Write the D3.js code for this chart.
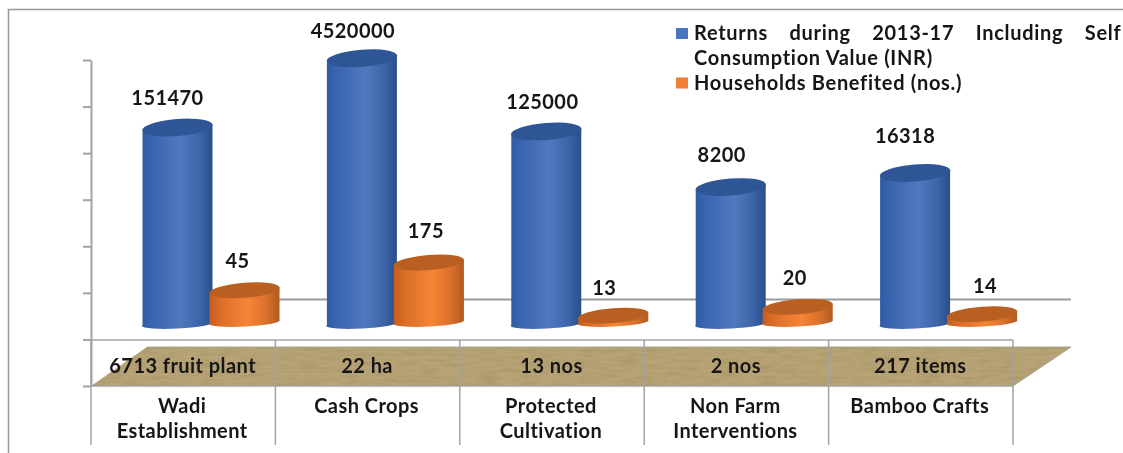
<!DOCTYPE html>
<html>
<head>
<meta charset="utf-8">
<script src="https://cdn.jsdelivr.net/npm/d3@7"></script>
<style>
  html, body { margin: 0; padding: 0; background: #fff; }
  svg { display: block; }
  text { font-family: Lato, "Open Sans", sans-serif; font-weight: 700; fill: #161616; letter-spacing: 0.45px; }
</style>
</head>
<body>
<script>
const categories = [['Wadi', 'Establishment'], ['Cash Crops'], ['Protected', 'Cultivation'], ['Non Farm', 'Interventions'], ['Bamboo Crafts']]
const quantities = ['6713 fruit plant', '22 ha', '13 nos', '2 nos', '217 items']
const returnsInr = [151470, 4520000, 125000, 8200, 16318]
const households = [45, 175, 13, 20, 14]
const axisTicks = [1, 10, 100, 1000, 10000, 100000, 1000000, 10000000]
const legendNames = ['Returns during 2013-17 Including Self', 'Consumption Value (INR)', 'Households Benefited (nos.)']

// hand placed label shifts, [dx, dy]
const returnsNudge = [[-2, 0], [-1, 3], [4, 1], [-1, -2], [-2, -7]]
const householdsNudge = [[-1, 0], [3, -3], [-3, 1], [3, 0], [9, 1]]

const width = 1123
const height = 453

let svg = d3
  .select('body')
  .append('svg')
  .attr('width', width)
  .attr('height', height)

let defs = svg.append('defs')

const addGradient = function(id, stops) {
  defs.append('linearGradient')
    .attr('id', id)
    .selectAll('stop')
    .data(stops)
    .join('stop')
    .attr('offset', d => d[0])
    .attr('stop-color', d => d[1])
}
addGradient('blueBody', [[0, '#2f5aa3'], [0.12, '#3763ae'], [0.55, '#5079bf'], [0.82, '#3c64a8'], [1, '#2a4f88']])
addGradient('orangeBody', [[0, '#c45c1e'], [0.15, '#d96c27'], [0.55, '#f68536'], [0.82, '#d9702b'], [1, '#b25a20']])

let soft = defs.append('filter').attr('id', 'soft')
soft.append('feGaussianBlur').attr('stdDeviation', 0.45)

let wood = defs.append('filter').attr('id', 'wood')
wood.append('feTurbulence')
  .attr('type', 'fractalNoise')
  .attr('baseFrequency', '0.05 0.3')
  .attr('numOctaves', 3)
  .attr('seed', 4)
wood.append('feColorMatrix')
  .attr('values', '0 0 0 0 0.35  0 0 0 0 0.27  0 0 0 0 0.12  0 0 0 1.1 -0.42')
wood.append('feComposite')
  .attr('in2', 'SourceGraphic')
  .attr('operator', 'in')

let root = svg.append('g').attr('filter', 'url(#soft)')

// outer frame, only top and left are in the picture
root.append('path')
  .attr('d', `M8.5,${height} V9.5 H${width}`)
  .attr('fill', 'none')
  .attr('stroke', '#999')
  .attr('stroke-width', 1.5)

let x = d3
  .scaleBand()
  .domain(d3.range(categories.length))
  .range([91, 1013])

// log axis on the wall and the bars in front of it have slightly different decades
let axisY = d3
  .scaleLog()
  .domain([1, 10000000])
  .range([386, 60])

let y = d3
  .scaleLog()
  .domain([10, 10000000])
  .range([324, 42])

root.append('g')
  .attr('transform', 'translate(91,0)')
  .call(d3.axisLeft(axisY).tickValues(axisTicks).tickFormat('').tickSize(8).tickSizeOuter(0))
  .call(g => g.selectAll('path,line').attr('stroke', '#a3a3a3').attr('stroke-width', 2))

// back wall line
root.append('line')
  .attr('x1', 147).attr('x2', 1071)
  .attr('y1', 299.5).attr('y2', 299.5)
  .attr('stroke', '#9a9a9a')
  .attr('stroke-width', 2)

// floor
const floor = 'M91,386 L147,347 H1071 L1013,386 Z'
root.append('path').attr('d', floor).attr('fill', '#b7a375')
root.append('path').attr('d', floor).attr('fill', '#000').attr('filter', 'url(#wood)')
root.append('path').attr('d', 'M1013,386 L1071,347 H147').attr('fill', 'none').attr('stroke', '#a9a395').attr('stroke-width', 1)

// data table grid
let grid = root.append('g').attr('stroke', '#a3a3a3').attr('stroke-width', 1.5)
grid.append('line').attr('x1', 91).attr('x2', 1013).attr('y1', 340).attr('y2', 340)
grid.append('line').attr('x1', 91).attr('x2', 1013).attr('y1', 386).attr('y2', 386)
grid.selectAll('line.v')
  .data(d3.range(categories.length + 1))
  .join('line')
  .attr('class', 'v')
  .attr('x1', d => 91 + d * x.step())
  .attr('x2', d => 91 + d * x.step())
  .attr('y1', 340)
  .attr('y2', 445)

const blue = { body: 'blueBody', cap: '#2f5796', offset: 86.5, lift: 0, ry: 8.5 }
const orange = { body: 'orangeBody', cap: '#b95f24', offset: 153.5, lift: 3, ry: 7.5 }

const cylinder = function(g, value, i, opts) {
  const cx = x(i) + opts.offset
  const top = y(value) - opts.lift
  const base = y.range()[0] - opts.lift + (opts.lift ? 1 : 0)
  g.append('path')
    .attr('fill', `url(#${opts.body})`)
    .attr('d', `M${cx - 35},${top + 2.7} L${cx - 35},${base + 1} A35,4.5 -3 0 0 ${cx + 35},${base - 1} L${cx + 35},${top - 2.7} Z`)
  g.append('ellipse')
    .attr('rx', 35.3)
    .attr('ry', opts.ry)
    .attr('fill', opts.cap)
    .attr('transform', `translate(${cx},${top}) rotate(-4.5)`)
}

let marks = root.append('g')
  .selectAll('g')
  .data(categories)
  .join('g')

marks.each(function(d, i) {
  cylinder(d3.select(this), returnsInr[i], i, blue)
  cylinder(d3.select(this), households[i], i, orange)
})

// value labels
const labelSize = 20
root.append('g')
  .selectAll('text')
  .data(returnsInr)
  .join('text')
  .attr('text-anchor', 'middle')
  .attr('font-size', labelSize)
  .attr('x', (d, i) => x(i) + blue.offset - 8 + returnsNudge[i][0])
  .attr('y', (d, i) => y(d) - 23 + returnsNudge[i][1])
  .text(d => d)

root.append('g')
  .selectAll('text')
  .data(households)
  .join('text')
  .attr('text-anchor', 'middle')
  .attr('font-size', labelSize)
  .attr('x', (d, i) => x(i) + orange.offset - 6 + householdsNudge[i][0])
  .attr('y', (d, i) => y(d) - orange.lift - 22 + householdsNudge[i][1])
  .text(d => d)

// data table text
root.append('g')
  .selectAll('text')
  .data(quantities)
  .join('text')
  .attr('text-anchor', 'middle')
  .attr('font-size', 20)
  .attr('x', (d, i) => x(i) + x.bandwidth() / 2 - 0.5)
  .attr('y', 373)
  .text(d => d)

root.append('g')
  .selectAll('text')
  .data(categories)
  .join('text')
  .attr('text-anchor', 'middle')
  .attr('font-size', 20)
  .attr('x', (d, i) => x(i) + x.bandwidth() / 2 - 1)
  .attr('y', 413)
  .selectAll('tspan')
  .data(d => d)
  .join('tspan')
  .attr('x', function() { return this.parentNode.getAttribute('x') })
  .attr('dy', (d, i) => i ? 24.5 : 0)
  .text(d => d)

// legend
const legendColors = ['#4a74bb', '#f07f33']
let legend = root.append('g')
legend.selectAll('rect')
  .data(legendColors)
  .join('rect')
  .attr('x', 676)
  .attr('y', (d, i) => 28 + i * 49.5)
  .attr('width', 12)
  .attr('height', 11)
  .attr('fill', d => d)

legend.selectAll('text')
  .data(legendNames)
  .join('text')
  .attr('x', 694)
  .attr('y', (d, i) => 39.5 + i * 25)
  .attr('font-size', 20)
  .style('letter-spacing', '0.7px')
  .attr('word-spacing', (d, i) => i ? 0 : 16)
  .text(d => d)
</script>
</body>
</html>
